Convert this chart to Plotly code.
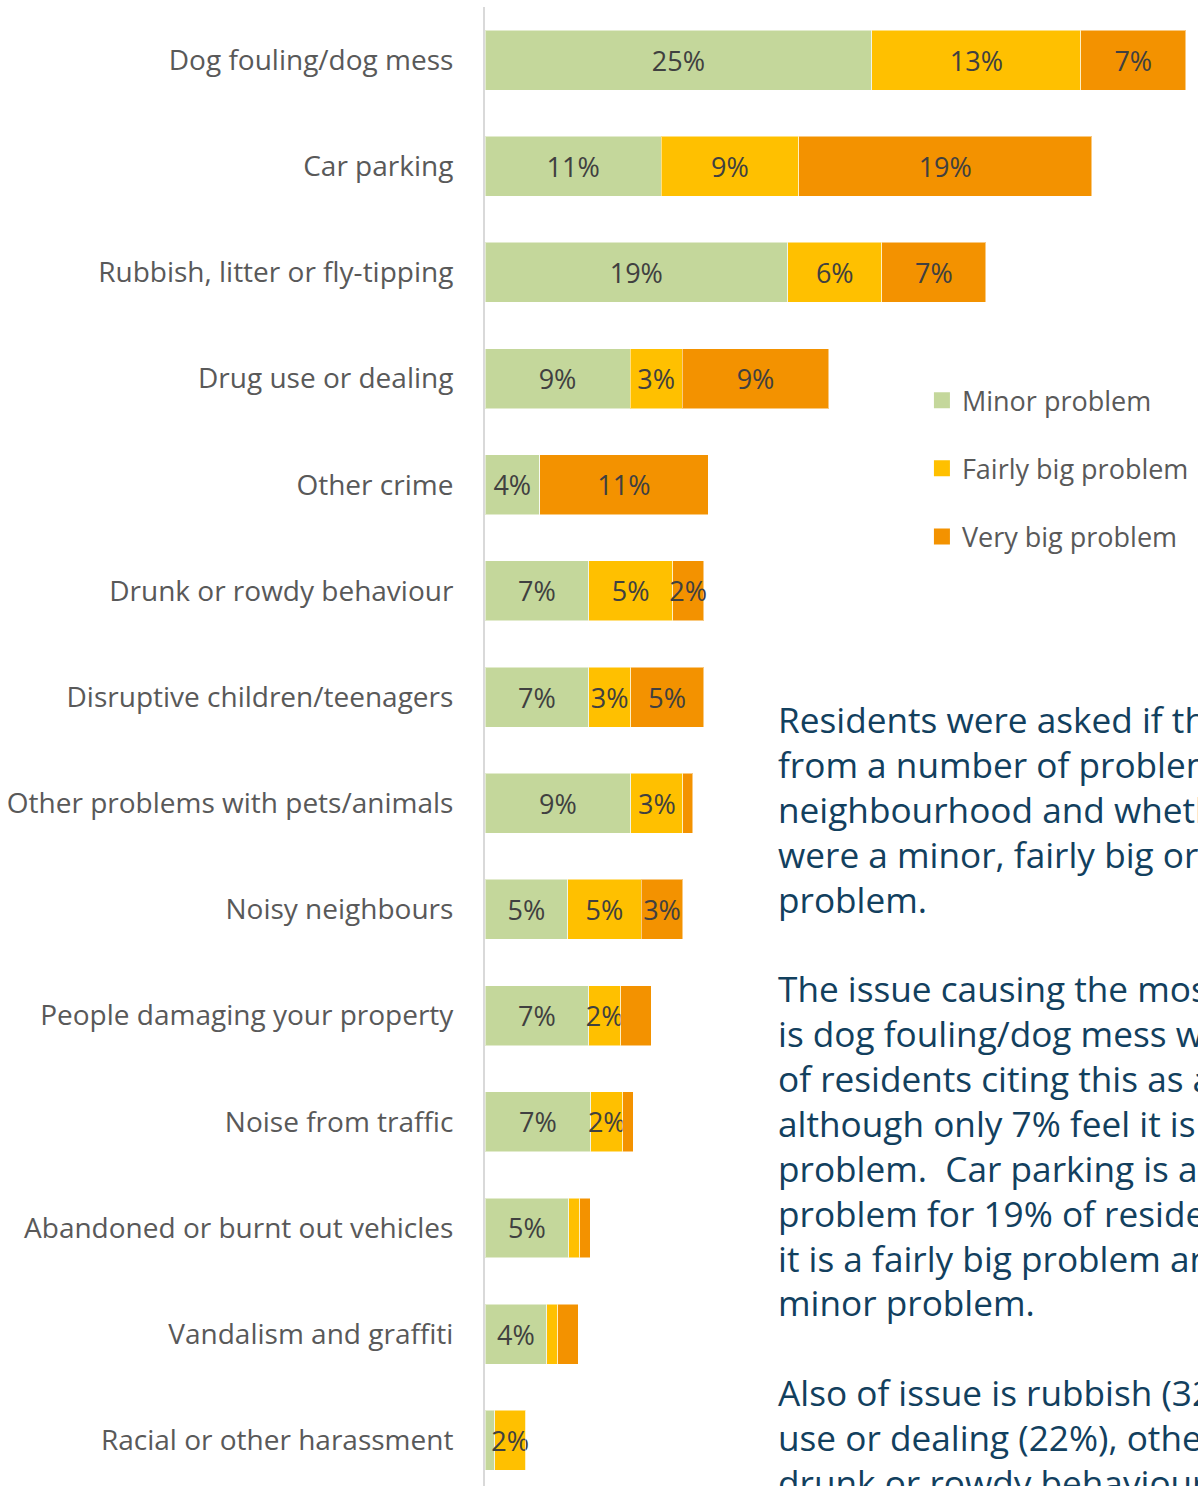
import plotly.graph_objects as go

categories = [
    "Dog fouling/dog mess",
    "Car parking",
    "Rubbish, litter or fly-tipping",
    "Drug use or dealing",
    "Other crime",
    "Drunk or rowdy behaviour",
    "Disruptive children/teenagers",
    "Other problems with pets/animals",
    "Noisy neighbours",
    "People damaging your property",
    "Noise from traffic",
    "Abandoned or burnt out vehicles",
    "Vandalism and graffiti",
    "Racial or other harassment",
]

minor = [24.8, 11.3, 19.4, 9.3, 3.5, 6.65, 6.65, 9.34, 5.3, 6.65, 6.78, 5.38, 3.97, 0.62]
fairly = [13.4, 8.8, 6.04, 3.35, 0.0, 5.38, 2.69, 3.35, 4.7, 2.05, 2.05, 0.69, 0.69, 1.99]
very = [6.7, 18.8, 6.67, 9.38, 10.8, 1.99, 4.68, 0.64, 2.69, 1.96, 0.68, 0.66, 1.32, 0.0]

minor_labels = ["25%", "11%", "19%", "9%", "4%", "7%", "7%", "9%", "5%", "7%", "7%", "5%", "4%", ""]
fairly_labels = ["13%", "9%", "6%", "3%", "", "5%", "3%", "3%", "5%", "2%", "2%", "", "", "2%"]
very_labels = ["7%", "19%", "7%", "9%", "11%", "2%", "5%", "", "3%", "", "", "", "", ""]

series_names = ["Minor problem", "Fairly big problem", "Very big problem"]
colors = ["#C4D79B", "#FFC000", "#F39200"]

body_lines = [
    "Residents were asked if they suffered",
    "from a number of problems in their",
    "neighbourhood and whether these",
    "were a minor, fairly big or very big",
    "problem.",
    "",
    "The issue causing the most concern",
    "is dog fouling/dog mess with 45%",
    "of residents citing this as a problem,",
    "although only 7% feel it is a very big",
    "problem.  Car parking is a very big",
    "problem for 19% of residents, 9% feel",
    "it is a fairly big problem and 11% a",
    "minor problem.",
    "",
    "Also of issue is rubbish (32%), drug",
    "use or dealing (22%), other crime (15%),",
    "drunk or rowdy behaviour (14%) and",
]

FONT = "Open Sans"
W, H = 1198, 1486
ML, MT = 485, 7
PLOT_W, PLOT_H = W - ML, H - MT

fig = go.Figure()
for name, vals, labs, col in zip(series_names, [minor, fairly, very],
                                 [minor_labels, fairly_labels, very_labels], colors):
    fig.add_trace(go.Bar(
        y=categories, x=vals, orientation="h", name=name,
        legendgroup=name, showlegend=False,
        marker=dict(color=col, line=dict(color="rgba(255,255,255,0.5)", width=1)),
        text=labs, textposition="inside", insidetextanchor="middle",
        constraintext="none", textangle=0,
        textfont=dict(family=FONT, size=27, color="#404040"),
        hoverinfo="skip",
    ))
# legend entries with larger square swatches
for name, col in zip(series_names, colors):
    fig.add_trace(go.Scatter(
        x=[None], y=[None], mode="markers", name=name, legendgroup=name,
        marker=dict(symbol="square", size=17, color=col), showlegend=True,
        hoverinfo="skip",
    ))

fig.update_layout(
    barmode="stack",
    bargap=0.435,
    width=W, height=H,
    margin=dict(l=ML, r=0, t=MT, b=0),
    paper_bgcolor="white", plot_bgcolor="white",
    font=dict(family=FONT, color="#595959"),
    showlegend=True,
    legend=dict(
        x=0.6128, y=0.7504, xanchor="left", yanchor="top",
        font=dict(family=FONT, size=27, color="#595959"),
        tracegroupgap=30, traceorder="grouped", bgcolor="rgba(0,0,0,0)",
        itemsizing="trace",
    ),
    xaxis=dict(range=[0, 45.7], showgrid=False, zeroline=False,
               showticklabels=False, ticks="", showline=False, fixedrange=True),
    yaxis=dict(categoryorder="array", categoryarray=categories,
               range=[13.43, -0.5], showgrid=False, zeroline=False,
               showline=True, linecolor="#D9D9D9", linewidth=2,
               ticks="", ticklabelstandoff=24,
               tickfont=dict(family=FONT, size=28, color="#595959")),
)

text_x_px, first_line_px, line_step_px = 776, 719, 44.88
for i, line in enumerate(body_lines):
    if not line:
        continue
    ypx = first_line_px + i * line_step_px
    fig.add_annotation(
        xref="paper", yref="paper",
        x=(text_x_px - ML) / PLOT_W, y=1 - (ypx - MT) / PLOT_H,
        xanchor="left", yanchor="middle", align="left", showarrow=False,
        text=line, font=dict(family=FONT, size=35.2, color="#12405E"),
    )

fig.write_html("out.html")
